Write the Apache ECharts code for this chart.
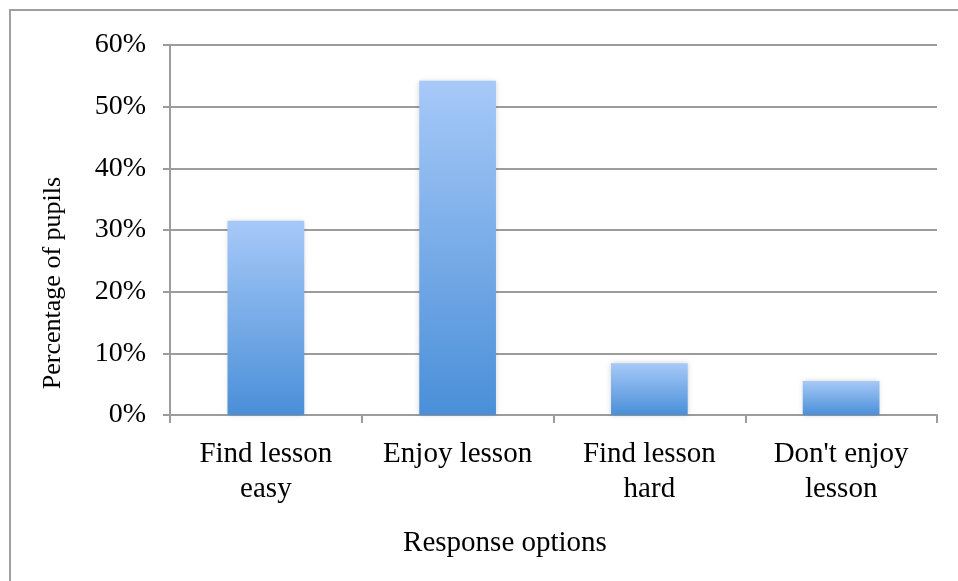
<!DOCTYPE html>
<html>
<head>
<meta charset="utf-8">
<script src="https://cdn.jsdelivr.net/npm/echarts@6/dist/echarts.min.js"></script>
<style>
  html, body { margin: 0; padding: 0; background: #fff; }
  #chart { width: 958px; height: 581px; }
</style>
</head>
<body>
<div id="chart"></div>
<script>
// Survey responses: share of pupils choosing each option
const categories = ['Find lesson\neasy', 'Enjoy lesson', 'Find lesson\nhard', "Don't enjoy\nlesson"];
const percentages = [31.5, 54.2, 8.4, 5.5];
const yTicks = [0, 10, 20, 30, 40, 50, 60];

const gridColor = '#9c9c9c';
const chart = echarts.init(document.getElementById('chart'));

chart.setOption({
  backgroundColor: '#ffffff',
  animation: false,
  grid: { left: 170, right: 21, top: 45, bottom: 166 },
  graphic: [
    {
      type: 'rect',
      shape: { x: 10, y: 10, width: 1000, height: 700 },
      style: { fill: 'none', stroke: '#a0a0a0', lineWidth: 2 },
      silent: true
    },
    {
      type: 'text',
      x: 53, y: 283,
      rotation: Math.PI / 2,
      style: {
        text: 'Percentage of pupils',
        font: '26px "Liberation Serif", serif',
        fill: '#000',
        align: 'center',
        verticalAlign: 'middle'
      }
    },
    {
      type: 'text',
      x: 505, y: 543,
      style: {
        text: 'Response options',
        font: '29px "Liberation Serif", serif',
        fill: '#000',
        align: 'center',
        verticalAlign: 'middle'
      }
    }
  ],
  xAxis: {
    type: 'category',
    data: categories,
    axisLine: { show: true, lineStyle: { color: gridColor, width: 2 } },
    axisTick: { show: true, length: 8, alignWithLabel: false, lineStyle: { color: gridColor, width: 2 } },
    axisLabel: {
      margin: 22,
      interval: 0,
      color: '#000',
      fontFamily: '"Liberation Serif", serif',
      fontSize: 29,
      lineHeight: 35,
      align: 'center'
    }
  },
  yAxis: {
    type: 'value',
    min: yTicks[0],
    max: yTicks[yTicks.length - 1],
    interval: 10,
    axisLine: { show: true, lineStyle: { color: gridColor, width: 2 } },
    axisTick: { show: true, length: 7, lineStyle: { color: gridColor, width: 2 } },
    splitLine: { show: true, lineStyle: { color: gridColor, width: 2 } },
    axisLabel: {
      margin: 24,
      color: '#000',
      fontFamily: '"Liberation Serif", serif',
      fontSize: 28,
      padding: [4, 0, 0, 0],
      formatter: v => v + '%'
    }
  },
  series: [{
    type: 'bar',
    data: percentages,
    barWidth: '40%',
    itemStyle: {
      color: new echarts.graphic.LinearGradient(0, 0, 0, 1, [
        { offset: 0, color: '#a7c9f8' },
        { offset: 1, color: '#4a8fd8' }
      ]),
      shadowBlur: 5,
      shadowColor: 'rgba(0,0,0,0.18)'
    }
  }]
});
</script>
</body>
</html>
